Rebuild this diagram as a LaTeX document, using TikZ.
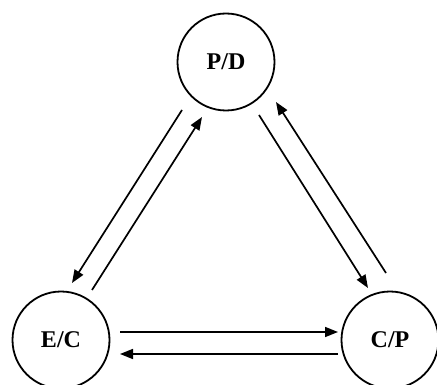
\documentclass[tikz,border=0pt]{standalone}
\usepackage{fontspec}
\setmainfont{Liberation Serif}
\usetikzlibrary{arrows.meta,calc}
\tikzset{
    state/.style={draw,circle,line width=1.8pt,minimum size=97pt,inner sep=0pt,font=\fontsize{24}{24}\selectfont\bfseries},
    flow/.style={line width=1.7pt,-{Triangle[length=13pt,width=10pt]}}
}
\begin{document}
\begin{tikzpicture}[x=1pt,y=-1pt]
                \useasboundingbox (0,0) rectangle (437,385);
                \node[state] (pd) at (226,62) {P/D};
                \node[state] (ec) at (61,340) {E/C};
                \node[state] (cp) at (390,340) {C/P};
                % left side
                \draw[flow] ($(pd)+(-44,48)$) -- ($(ec)+(11,-57)$);
                \draw[flow] ($(ec)+(31,-50)$) -- ($(pd)+(-24,55)$);
                % right side
                \draw[flow] ($(pd)+(33,53)$) -- ($(cp)+(-22,-52)$);
                \draw[flow] ($(cp)+(-4,-67)$) -- ($(pd)+(50,40)$);
                % bottom
                \draw[flow] ($(ec)+(59,-8)$) -- ($(cp)+(-52,-8)$);
                \draw[flow] ($(cp)+(-52,14)$) -- ($(ec)+(59,14)$);
            \end{tikzpicture}
\end{document}
